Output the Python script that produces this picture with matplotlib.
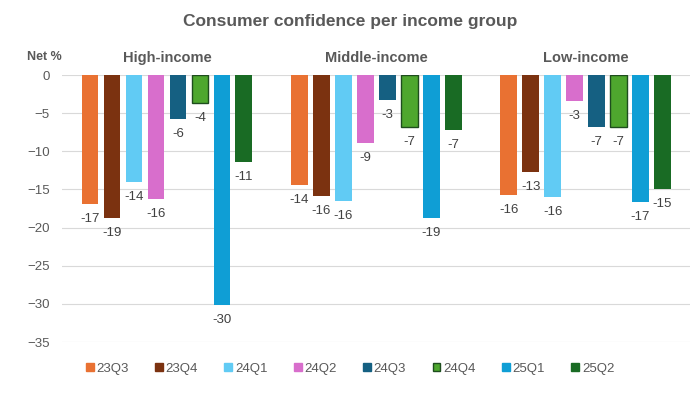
import numpy as np
import matplotlib
matplotlib.use('Agg')
import matplotlib.pyplot as plt
from matplotlib.patches import Patch

groups = ['High-income', 'Middle-income', 'Low-income']
quarters = ['23Q3', '23Q4', '24Q1', '24Q2', '24Q3', '24Q4', '25Q1', '25Q2']
high = [-16.9, -18.7, -14.0, -16.3, -5.8, -3.7, -30.1, -11.4]
middle = [-14.4, -15.9, -16.5, -8.9, -3.3, -6.8, -18.7, -7.2]
low = [-15.7, -12.7, -16.0, -3.4, -6.8, -6.8, -16.6, -14.9]
colors = ['#E97132', '#7B3210', '#61CBF4', '#D86ECC', '#156082', '#4EA72E', '#0F9ED5', '#196B24']

plt.rcParams['font.family'] = ['Liberation Sans', 'DejaVu Sans']
txt = '#595959'

fig = plt.figure(figsize=(7, 3.95), dpi=100)
ax = fig.add_axes([0.089, 0.134, 0.897, 0.676])

vals = np.array([high, middle, low])
step = 0.105
w = 0.08
for j, q in enumerate(quarters):
    x = np.arange(3) + (j - 3.5) * step
    ec = '#1E4D1E' if q == '24Q4' else 'none'
    lw = 1.0 if q == '24Q4' else 0
    ax.bar(x, vals[:, j], width=w, color=colors[j], edgecolor=ec, linewidth=lw, zorder=3)
    for xi, v in zip(x, vals[:, j]):
        ax.annotate('%d' % round(v), (xi, v), xytext=(0, -6.5), textcoords='offset points',
                    ha='center', va='top', fontsize=9.5, color='#404040')

ax.set_xlim(-0.5, 2.5)
ax.set_ylim(-35, 0)
ax.set_yticks(range(-35, 1, 5))
ax.tick_params(axis='y', length=0, labelsize=9.5, labelcolor=txt, pad=9)
ax.set_xticks([])
ax.grid(axis='y', color='#D9D9D9', linewidth=0.8, zorder=0)
for s in ax.spines.values():
    s.set_visible(False)

for i, g in enumerate(groups):
    ax.text(i, 2.3, g, ha='center', va='center', fontsize=10.5, fontweight='bold', color=txt)
fig.text(0.064, 0.855, 'Net %', ha='center', va='center', fontsize=9, fontweight='bold', color=txt)
fig.text(0.5, 0.945, 'Consumer confidence per income group', ha='center', va='center',
         fontsize=12.5, fontweight='bold', color=txt)

handles = [Patch(facecolor=c, edgecolor=('#1E4D1E' if q == '24Q4' else c), label=q)
           for q, c in zip(quarters, colors)]
fig.legend(handles=handles, loc='center', bbox_to_anchor=(0.5, 0.066), ncol=8, frameon=False,
           fontsize=9.5, handlelength=0.6, handleheight=0.6, handletextpad=0.2, columnspacing=2.0,
           labelcolor=txt)

fig.savefig('out.png', dpi=100)
